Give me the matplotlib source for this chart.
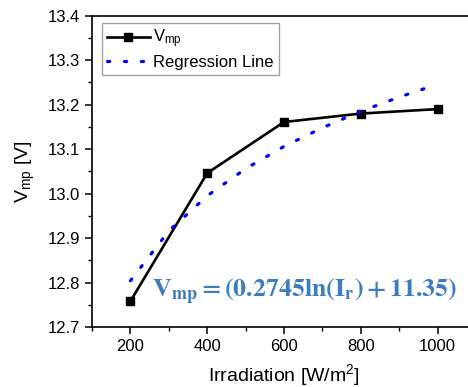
import matplotlib
matplotlib.use("Agg")
import matplotlib.pyplot as plt
from matplotlib.ticker import MultipleLocator

plt.rcParams['font.family'] = ['Liberation Sans', 'DejaVu Sans']
plt.rcParams['mathtext.default'] = 'regular'

# measured V_mp at each irradiation level
irradiation = [200, 400, 600, 800, 1000]
vmp = [12.758, 13.046, 13.161, 13.180, 13.190]

# regression curve
reg_x = [200, 300, 400, 500, 600, 700, 800, 900, 1000]
reg_y = [12.804, 12.916, 12.995, 13.056, 13.106, 13.148, 13.185, 13.217, 13.246]

fig = plt.figure(figsize=(4.68, 3.87), dpi=100)
# axes runs past the right edge like the cropped original
ax = fig.add_axes([0.1966, 0.155, 0.8205, 0.8044])

ax.plot(irradiation, vmp, color='black', lw=1.9, marker='s', ms=5.5, label=r'$V_{mp}$')
ax.plot(reg_x, reg_y, color='#0000ff', lw=2.3, linestyle=(0, (0.7, 4.6)),
        dash_capstyle='round', label='Regression Line')

ax.set_xlim(100, 1100)
ax.set_ylim(12.7, 13.4)
ax.xaxis.set_major_locator(MultipleLocator(200))
ax.xaxis.set_minor_locator(MultipleLocator(100))
ax.yaxis.set_major_locator(MultipleLocator(0.1))
ax.yaxis.set_minor_locator(MultipleLocator(0.05))
ax.yaxis.set_major_formatter(matplotlib.ticker.FormatStrFormatter('%.1f'))

ax.tick_params(which='major', direction='out', length=5, width=1.1, labelsize=12)
ax.tick_params(which='minor', direction='out', length=3, width=1.0)
for s in ax.spines.values():
    s.set_linewidth(1.2)

ax.set_xlabel(r'Irradiation [W/m$^2$]', fontsize=14, labelpad=6)
ax.set_ylabel(r'$V_{mp}$ [V]', fontsize=14, labelpad=8)

leg = ax.legend(loc='upper left', bbox_to_anchor=(0.025, 0.978), borderaxespad=0,
                fontsize=12, handlelength=2.6, fancybox=False, framealpha=1,
                edgecolor='#a0a0a0', borderpad=0.3, labelspacing=0.3, handletextpad=0.2)
leg.get_frame().set_linewidth(1.0)

ax.text(255, 12.779, r'$\mathbf{V_{mp} = (0.2745ln(I_r) + 11.35)}$',
        color='#3d7cc0', fontsize=18.6, ha='left', va='center', math_fontfamily='stix')

fig.savefig('out.png', dpi=100)
